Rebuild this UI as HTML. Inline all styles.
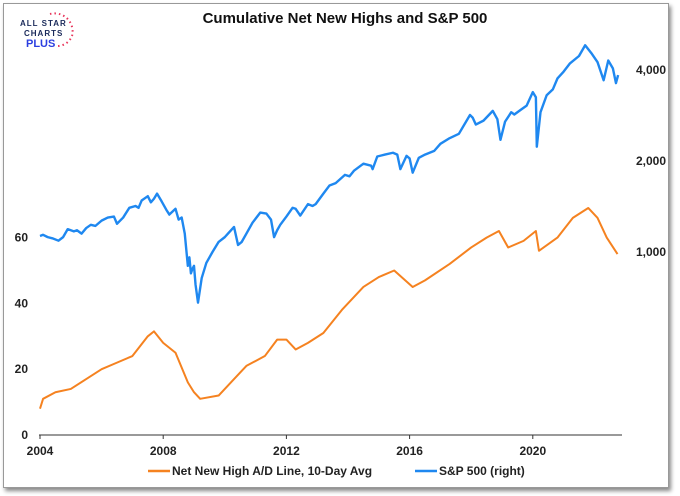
<!DOCTYPE html>
<html><head><meta charset="utf-8"><style>
body{margin:0;background:#fff;width:680px;height:496px;overflow:hidden;font-family:"Liberation Sans",sans-serif}
#frame{position:absolute;left:3px;top:3px;width:664px;height:483px;border:1px solid #999;box-shadow:2px 3px 4px #888;background:#fff}
</style></head><body>
<div id="frame"></div>
<svg id="c" width="680" height="496" style="position:absolute;left:0;top:0">
<g font-weight="bold" font-size="8" fill="#1a2a5a">
<text x="20" y="26" letter-spacing="1">ALL STAR</text>
<text x="24" y="36" letter-spacing="1">CHARTS</text>
<text x="26" y="47" font-size="11" fill="#2b3fe0">PLUS</text>
<path d="M50 14 A18 18 0 0 1 72 36 A16 16 0 0 1 58 46" fill="none" stroke="#e8345a" stroke-width="2" stroke-dasharray="1.5 3"/>
</g>
<text x="345" y="23" text-anchor="middle" font-size="15" font-weight="bold" fill="#111">Cumulative Net New Highs and S&amp;P 500</text>
<g id="axes"></g>
<g id="series"></g>
<g font-size="12" font-weight="bold" fill="#222">
<line x1="148" y1="471" x2="170" y2="471" stroke="#f58220" stroke-width="2.5"/>
<text x="172" y="475">Net New High A/D Line, 10-Day Avg</text>
<line x1="415" y1="471" x2="437" y2="471" stroke="#1f88f0" stroke-width="2.5"/>
<text x="439" y="475">S&amp;P 500 (right)</text>
</g>
</svg>
<script>
const spDates=[2004.0,2004.1,2004.25,2004.4,2004.6,2004.75,2004.9,2005.1,2005.2,2005.35,2005.5,2005.65,2005.8,2006.0,2006.2,2006.4,2006.5,2006.7,2006.9,2007.1,2007.2,2007.3,2007.5,2007.6,2007.7,2007.8,2007.95,2008.1,2008.2,2008.4,2008.5,2008.6,2008.7,2008.8,2008.85,2008.9,2008.95,2009.0,2009.05,2009.13,2009.25,2009.4,2009.6,2009.8,2010.0,2010.1,2010.3,2010.43,2010.55,2010.7,2010.9,2011.15,2011.35,2011.5,2011.6,2011.7,2011.8,2012.0,2012.2,2012.3,2012.45,2012.7,2012.85,2012.95,2013.2,2013.4,2013.6,2013.9,2014.05,2014.2,2014.5,2014.75,2014.8,2014.95,2015.2,2015.46,2015.6,2015.7,2015.9,2016.0,2016.1,2016.3,2016.5,2016.8,2017.0,2017.3,2017.6,2017.96,2018.05,2018.15,2018.4,2018.7,2018.85,2018.95,2019.1,2019.3,2019.4,2019.6,2019.8,2020.0,2020.1,2020.13,2020.25,2020.45,2020.65,2020.8,2021.0,2021.2,2021.5,2021.7,2021.9,2022.1,2022.3,2022.45,2022.6,2022.7,2022.77,2022.85];
const spValues=[1130,1140,1120,1110,1090,1120,1190,1170,1180,1150,1200,1230,1220,1270,1300,1310,1240,1300,1400,1420,1400,1480,1530,1460,1500,1560,1470,1380,1330,1390,1280,1300,1150,900,960,850,880,900,780,680,820,920,1000,1080,1120,1150,1210,1055,1080,1150,1250,1350,1340,1280,1120,1180,1230,1310,1400,1390,1320,1440,1420,1440,1560,1660,1690,1800,1780,1860,1960,1930,1880,2070,2100,2130,2100,1880,2080,2040,1830,2050,2100,2160,2280,2380,2460,2840,2780,2640,2720,2930,2750,2350,2700,2900,2850,2950,3050,3380,3250,2230,2900,3300,3450,3750,3950,4200,4450,4830,4550,4250,3700,4300,4050,3620,3850];
const nhDates=[2004.0,2004.1,2004.5,2005.0,2005.5,2006.0,2006.5,2007.0,2007.5,2007.7,2008.0,2008.4,2008.8,2009.0,2009.2,2009.8,2010.3,2010.7,2011.3,2011.7,2012.0,2012.3,2012.7,2013.2,2013.8,2014.5,2015.0,2015.5,2016.1,2016.5,2017.3,2018.0,2018.5,2018.9,2019.2,2019.7,2020.1,2020.2,2020.8,2021.3,2021.8,2022.1,2022.4,2022.75];
const nhValues=[8,11,13,14,17,20,22,24,30,31.5,28,25,16,13,11,12,17,21,24,29,29,26,28,31,38,45,48,50,45,47,52,57,60,62,57,59,62,56,60,66,69,66,60,55];
const xTicks=[2004,2008,2012,2016,2020];
const leftTicks=[0,20,40,60];
const rightTicks=[1000,2000,4000];
const X=d=>40+(d-2004)*30.8;
const YL=v=>435-3.29*v;
const YR=v=>252-91*Math.log2(v/1000);
const NS="http://www.w3.org/2000/svg";
function mk(t,a,p){const e=document.createElementNS(NS,t);for(const k in a)e.setAttribute(k,a[k]);p.appendChild(e);return e;}
const ax=document.getElementById('axes'),se=document.getElementById('series');
const xl=mk('line',{x1:39,x2:622,y1:435,y2:435,stroke:'#333','stroke-width':1},ax);


xTicks.forEach(t=>{
 const l=mk('line',{x1:X(t),x2:X(t),y1:435,y2:439,stroke:'#333'},ax);
 
 
 const tx=mk('text',{x:X(t),y:455,'text-anchor':'middle','font-size':12,'font-weight':'bold',fill:'#222'},ax);tx.textContent=t;
 
 
});
leftTicks.forEach(t=>{
 const tx=mk('text',{x:28,y:YL(t)+4,'text-anchor':'end','font-size':12,'font-weight':'bold',fill:'#222'},ax);tx.textContent=t;
 
 
});
rightTicks.forEach(t=>{
 const tx=mk('text',{x:636,y:YR(t)+4,'font-size':12,'font-weight':'bold',fill:'#222'},ax);tx.textContent=t.toLocaleString('en-US');
 
 
});
const sp=mk('polyline',{points:spDates.map((d,i)=>X(d)+','+YR(spValues[i])).join(' '),fill:'none',stroke:'#1f88f0','stroke-width':2.4,'stroke-linejoin':'round'},se);


const nh=mk('polyline',{points:nhDates.map((d,i)=>X(d)+','+YL(nhValues[i])).join(' '),fill:'none',stroke:'#f58220','stroke-width':2,'stroke-linejoin':'round'},se);


</script>
</body></html>
